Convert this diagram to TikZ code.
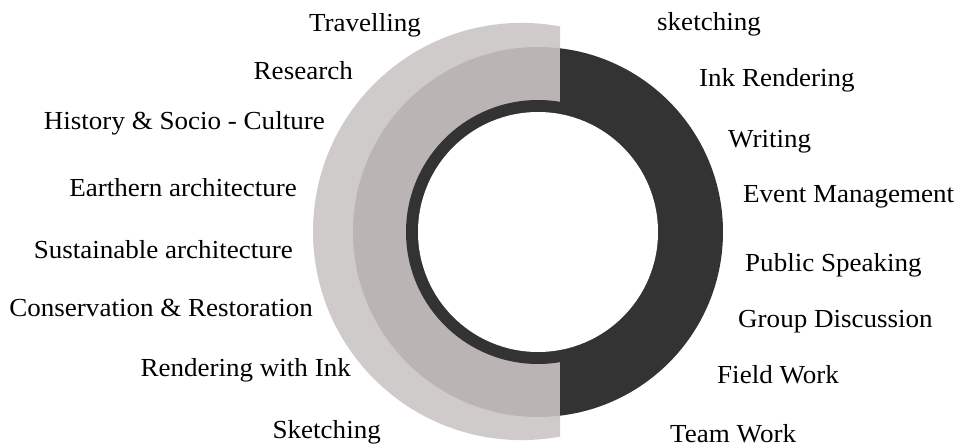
\documentclass[tikz,border=0pt]{standalone}
\usepackage{fontspec}
\setmainfont[FakeStretch=1.04]{Liberation Serif}
\definecolor{lightg}{HTML}{D0CBCB}
\definecolor{midg}{HTML}{BAB4B4}
\definecolor{darkg}{HTML}{333333}
\begin{document}
\begin{tikzpicture}[x=1pt,y=-1pt,
  lbl/.style={inner sep=0pt,font=\fontsize{26}{31}\selectfont,text=black},
  lft/.style={lbl,anchor=base east},
  rgt/.style={lbl,anchor=base west}]
\useasboundingbox (0,0) rectangle (956,446);
% left half shapes
\begin{scope}
  \clip (0,0) rectangle (560,446);
  \fill[lightg] (521.6,231.5) circle (208.6);
  \fill[midg] (538,232) circle (185);
\end{scope}
% right half
\begin{scope}
  \clip (560,0) rectangle (956,446);
  \fill[darkg] (538,232) circle (185);
\end{scope}
\fill[darkg] (538,232) circle (132);
\fill[white] (538,232) circle (120);
% left labels
\node[lft] (l1) at (421,32) {Travelling};
\node[lft] (l2) at (353,80) {Research};
\node[lft] (l3) at (325,130) {History \& Socio - Culture};
\node[lft] (l4) at (297,197) {Earthern architecture};
\node[lft] (l5) at (293,259) {Sustainable architecture};
\node[lft] (l6) at (313,317) {Conservation \& Restoration};
\node[lft] (l7) at (351,377) {Rendering with Ink};
\node[lft] (l8) at (381,438) {Sketching};
% right labels
\node[rgt] (r1) at (657,31) {sketching};
\node[rgt] (r2) at (699,87) {Ink Rendering};
\node[rgt] (r3) at (728,148) {Writing};
\node[rgt] (r4) at (743,203) {Event Management};
\node[rgt] (r5) at (745,272) {Public Speaking};
\node[rgt] (r6) at (738,327) {Group Discussion};
\node[rgt] (r7) at (717,384) {Field Work};
\node[rgt] (r8) at (670,442) {Team Work};
\end{tikzpicture}
\end{document}
